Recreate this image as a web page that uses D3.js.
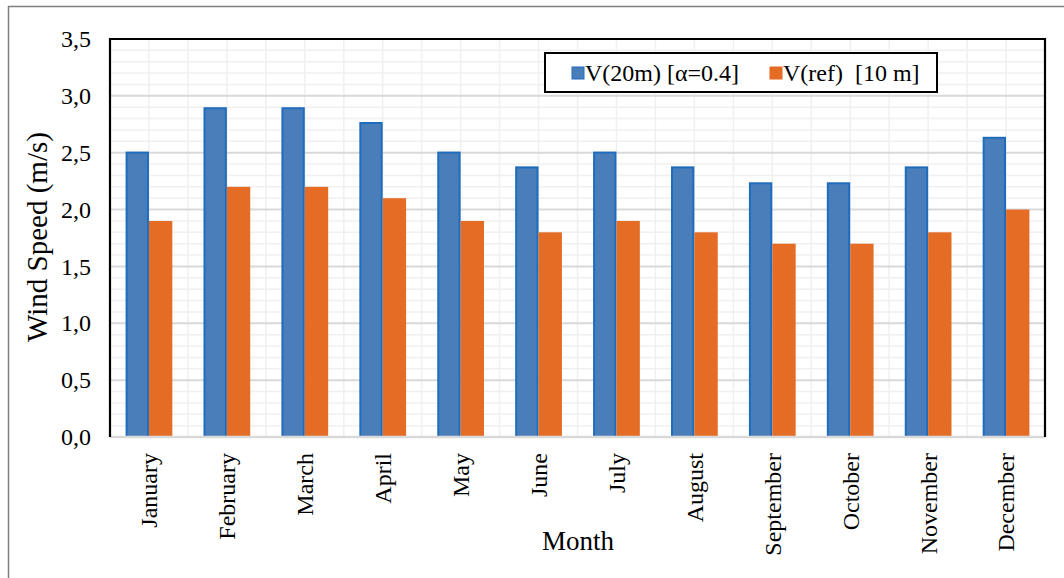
<!DOCTYPE html>
<html>
<head>
<meta charset="utf-8">
<script src="https://cdn.jsdelivr.net/npm/d3@7"></script>
<style>
  html, body { margin: 0; padding: 0; background: #fff; }
  svg { display: block; }
  text { font-family: "Liberation Serif", "Times New Roman", serif; fill: #000; }
</style>
</head>
<body>
<svg id="chart" width="1064" height="578"></svg>
<script>
// Monthly wind speed at 20 m (extrapolated, alpha = 0.4) and at reference height 10 m
const months = ["January", "February", "March", "April", "May", "June",
                "July", "August", "September", "October", "November", "December"];
const v20 = [2.51, 2.90, 2.90, 2.77, 2.51, 2.38, 2.51, 2.38, 2.24, 2.24, 2.38, 2.64];
const vRef = [1.9, 2.2, 2.2, 2.1, 1.9, 1.8, 1.9, 1.8, 1.7, 1.7, 1.8, 2.0];
const yTicks = [0, 0.5, 1.0, 1.5, 2.0, 2.5, 3.0, 3.5];
const seriesNames = ["V(20m) [α=0.4]", "V(ref)  [10 m]"];

const W = 1064, H = 578;
const plot = { left: 110, top: 39, right: 1045, bottom: 437 };
const colors = { blue: "#4a7ebb", blueEdge: "#1f6cbd", orange: "#e46c24" };

const svg = d3.select("#chart");

// outer frame (top and left edges visible)
svg.append("line").attr("x1", 8).attr("y1", 6.5).attr("x2", W).attr("y2", 6.5)
  .attr("stroke", "#7f7f7f").attr("stroke-width", 1.5);
svg.append("line").attr("x1", 8.5).attr("y1", 6).attr("x2", 8.5).attr("y2", H)
  .attr("stroke", "#7f7f7f").attr("stroke-width", 1.5);

const x = d3.scaleBand().domain(months).range([plot.left, plot.right]).padding(0);
const y = d3.scaleLinear().domain([0, 3.5]).range([plot.bottom, plot.top]);

const g = svg.append("g");

// minor horizontal gridlines every 0.1
const minor = d3.range(1, 35).map(i => i / 10).filter(v => Math.abs(v * 2 - Math.round(v * 2)) > 1e-6);
g.selectAll("line.hminor").data(minor).join("line")
  .attr("x1", plot.left).attr("x2", plot.right)
  .attr("y1", d => y(d)).attr("y2", d => y(d))
  .attr("stroke", "#f0f0f0").attr("stroke-width", 1.5);

// vertical gridlines at every half category
const vlines = [];
months.forEach((m, i) => { if (i > 0) vlines.push(x(m)); vlines.push(x(m) + x.bandwidth() / 2); });
g.selectAll("line.vgrid").data(vlines).join("line")
  .attr("x1", d => d).attr("x2", d => d)
  .attr("y1", plot.top).attr("y2", plot.bottom)
  .attr("stroke", "#f0f0f0").attr("stroke-width", 1.5);

// major horizontal gridlines
g.selectAll("line.hmajor").data(yTicks.filter(t => t > 0 && t < 3.5)).join("line")
  .attr("x1", plot.left).attr("x2", plot.right)
  .attr("y1", d => y(d)).attr("y2", d => y(d))
  .attr("stroke", "#d9d9d9").attr("stroke-width", 2);

// bars
const barW = x.bandwidth() * 0.3;
g.selectAll("rect.v20").data(v20).join("rect")
  .attr("x", (d, i) => x(months[i]) + x.bandwidth() / 2 - barW + 1)
  .attr("y", d => y(d) + 1)
  .attr("width", barW - 2)
  .attr("height", d => plot.bottom - y(d) - 1)
  .attr("fill", colors.blue)
  .attr("stroke", colors.blueEdge).attr("stroke-width", 2);

g.selectAll("rect.vref").data(vRef).join("rect")
  .attr("x", (d, i) => x(months[i]) + x.bandwidth() / 2)
  .attr("y", d => y(d))
  .attr("width", barW)
  .attr("height", d => plot.bottom - y(d))
  .attr("fill", colors.orange);

// plot frame: black on top, left, right; gray baseline
svg.append("line").attr("x1", plot.left).attr("x2", plot.right).attr("y1", plot.bottom).attr("y2", plot.bottom)
  .attr("stroke", "#d9d9d9").attr("stroke-width", 2.5);
svg.append("path")
  .attr("d", `M${plot.left},${plot.bottom} V${plot.top} H${plot.right} V${plot.bottom}`)
  .attr("fill", "none").attr("stroke", "#000").attr("stroke-width", 2.2);

// y axis labels
const yAxis = d3.axisLeft(y).tickValues(yTicks).tickSize(0).tickPadding(19)
  .tickFormat(d => d3.format(".1f")(d).replace(".", ","));
const ya = svg.append("g").attr("transform", `translate(${plot.left},0)`).call(yAxis);
ya.select(".domain").remove();
ya.selectAll("text").style("font-family", '"Liberation Serif", serif').style("font-size", "24px").attr("fill", "#000");

// x axis labels (rotated)
const xAxis = d3.axisBottom(x).tickSize(0).tickPadding(0);
const xa = svg.append("g").attr("transform", `translate(0,${plot.bottom})`).call(xAxis);
xa.select(".domain").remove();
xa.selectAll("text")
  .style("font-family", '"Liberation Serif", serif').style("font-size", "24px").attr("fill", "#000")
  .attr("transform", "rotate(-90)")
  .attr("x", -16).attr("y", 0).attr("dy", "0.35em")
  .style("text-anchor", "end");

// axis titles
svg.append("text").attr("transform", `translate(47,237) rotate(-90)`)
  .attr("text-anchor", "middle").style("font-size", "29px").text("Wind Speed (m/s)");
svg.append("text").attr("x", 578).attr("y", 550)
  .attr("text-anchor", "middle").style("font-size", "27px").text("Month");

// legend
const lg = svg.append("g");
lg.append("rect").attr("x", 545).attr("y", 53).attr("width", 392).attr("height", 39)
  .attr("fill", "#fff").attr("stroke", "#000").attr("stroke-width", 2);
const legendItems = [
  { name: seriesNames[0], fill: colors.blue, edge: colors.blueEdge, x: 572 },
  { name: seriesNames[1], fill: colors.orange, edge: colors.orange, x: 770 }
];
legendItems.forEach(it => {
  lg.append("rect").attr("x", it.x).attr("y", 67).attr("width", 12).attr("height", 12)
    .attr("fill", it.fill).attr("stroke", it.edge).attr("stroke-width", 1);
  lg.append("text").attr("x", it.x + 13).attr("y", 81).style("font-size", "24px")
    .style("white-space", "pre").attr("xml:space", "preserve").text(it.name);
});
</script>
</body>
</html>
